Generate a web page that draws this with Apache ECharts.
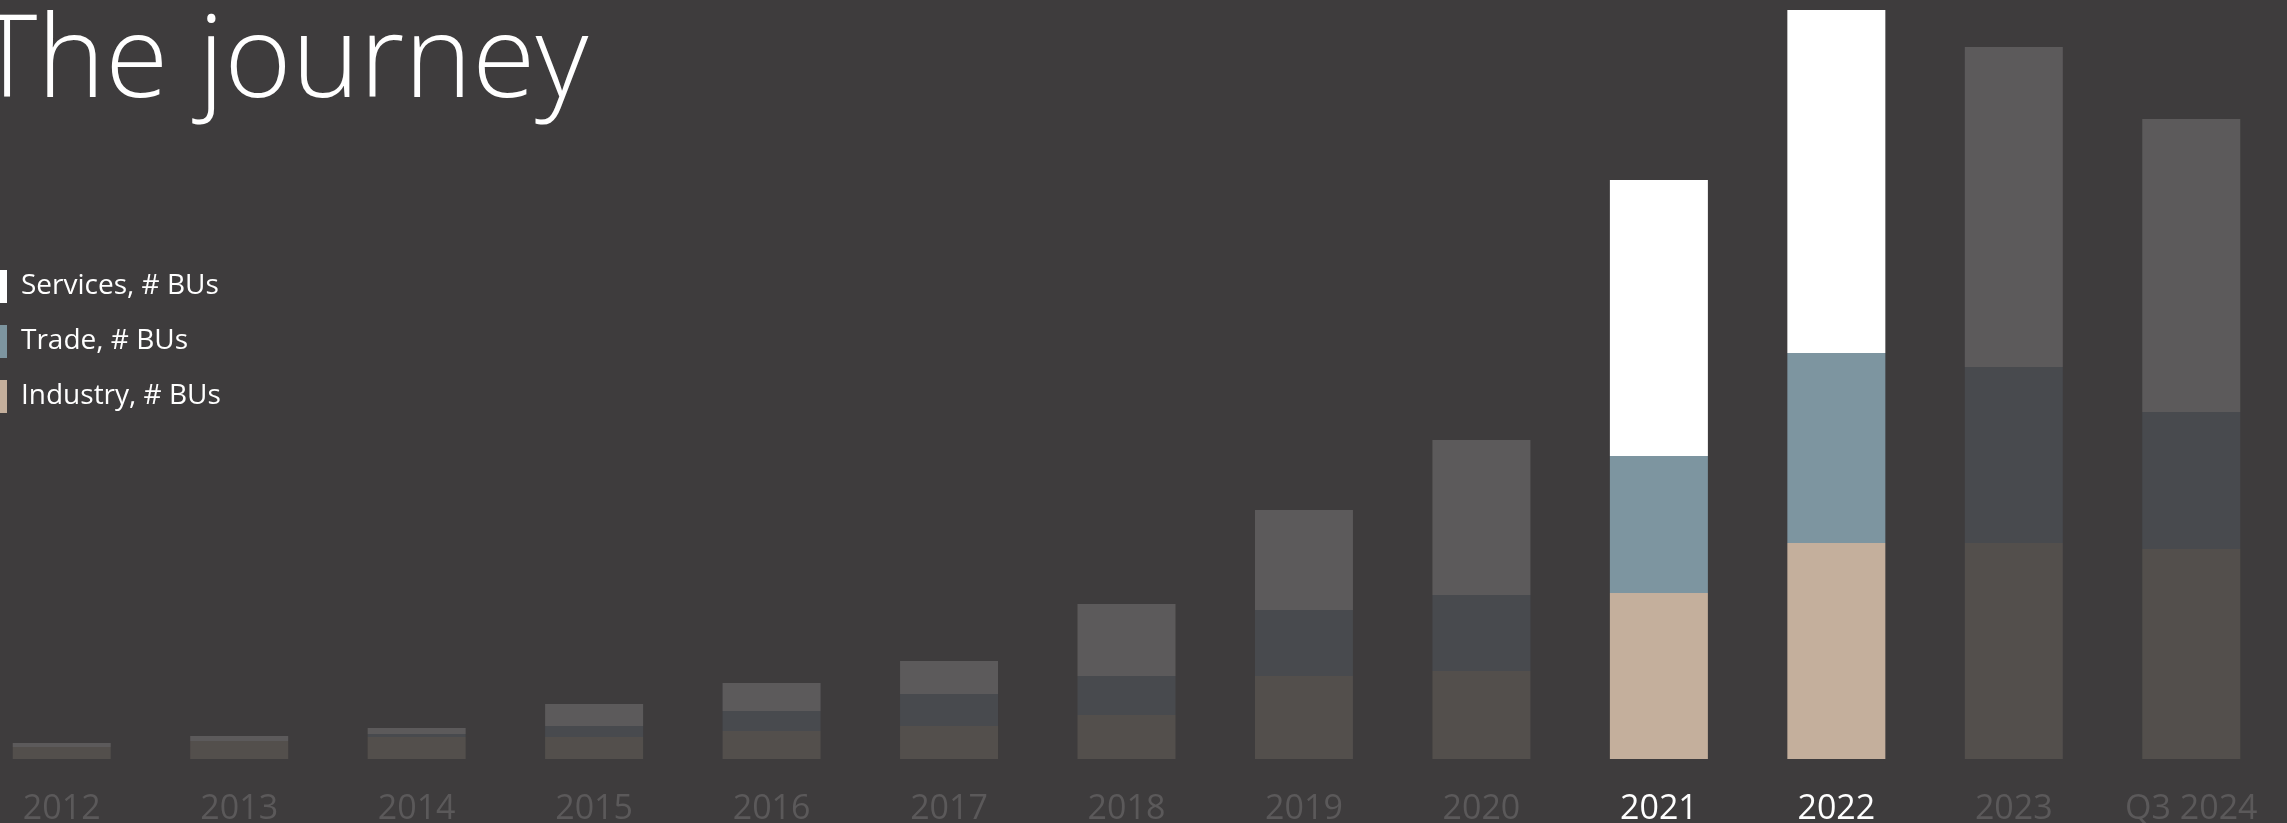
<!DOCTYPE html>
<html>
<head>
<meta charset="utf-8">
<script src="https://cdn.jsdelivr.net/npm/echarts@6/dist/echarts.min.js"></script>
<style>
  html, body { margin: 0; padding: 0; background: #3e3c3d; overflow: hidden; }
  #chart { position: absolute; left: -27px; top: 0; width: 2314px; height: 823px; }
</style>
</head>
<body>
<div id="chart"></div>
<script>
// ---- data ----
const categories = ['2012','2013','2014','2015','2016','2017','2018','2019','2020','2021','2022','2023','Q3 2024'];
const industry = [6, 9, 11, 11, 14, 16.5, 22, 41.5, 44, 83, 108, 108, 105];
const trade    = [0, 0, 1.5, 5.5, 10, 16, 19.5, 33, 38, 68.5, 95, 88, 68.5];
const services = [2, 2.5, 3, 11, 14, 16.5, 36, 50, 77.5, 138, 171.5, 160, 146.5];
const highlighted = ['2021', '2022'];
const seriesNames = ['Industry, # BUs', 'Trade, # BUs', 'Services, # BUs'];
const legendOrder = ['Services, # BUs', 'Trade, # BUs', 'Industry, # BUs'];
const titleText = 'The journey';

// ---- styles ----
const BG = '#3e3c3d';
const FONT = '"Open Sans", "Noto Sans", sans-serif';
const brightColors = ['#c4af9c', '#7d95a0', '#ffffff'];
const dimColors = ['#534f4c', '#484a4e', '#5c5a5b'];

function buildData(values, si) {
  return values.map((v, i) => {
    const hi = highlighted.indexOf(categories[i]) >= 0;
    return hi ? { value: v } : { value: v, itemStyle: { color: dimColors[si] } };
  });
}

const chart = echarts.init(document.getElementById('chart'));
chart.setOption({
  backgroundColor: BG,
  animation: false,
  title: {
    text: titleText,
    left: 4,
    top: 7,
    padding: 0,
    textStyle: { color: '#ffffff', fontFamily: FONT, fontWeight: 300, fontSize: 115 }
  },
  legend: {
    orient: 'vertical',
    left: 17,
    top: 270,
    padding: 0,
    itemWidth: 17,
    itemHeight: 33,
    itemGap: 22,
    icon: 'rect',
    data: legendOrder,
    selectedMode: false,
    textStyle: { color: '#ffffff', fontFamily: FONT, fontSize: 28, padding: [0, 0, 0, 9] }
  },
  grid: { left: 0, right: 7, top: 9, bottom: 64, containLabel: false, outerBoundsMode: 'none' },
  xAxis: {
    type: 'category',
    data: categories,
    axisLine: { show: false },
    axisTick: { show: false },
    axisLabel: {
      margin: 33,
      fontFamily: FONT,
      fontSize: 34,
      color: (val) => highlighted.indexOf(val) >= 0 ? '#ffffff' : '#5b595a'
    }
  },
  yAxis: {
    type: 'value',
    min: 0,
    max: 375,
    show: false,
    splitLine: { show: false }
  },
  series: seriesNames.map((name, si) => ({
    name: name,
    type: 'bar',
    stack: 'total',
    barWidth: 98,
    itemStyle: { color: brightColors[si] },
    data: buildData([industry, trade, services][si], si)
  }))
});
</script>
</body>
</html>
